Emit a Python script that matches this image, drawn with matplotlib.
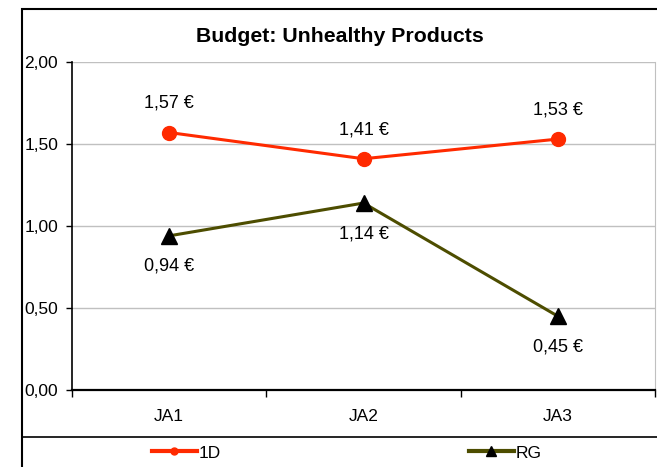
import matplotlib
matplotlib.use("Agg")
import matplotlib.pyplot as plt
from matplotlib.lines import Line2D
from matplotlib.patches import Rectangle
from matplotlib.ticker import FuncFormatter, FixedLocator

plt.rcParams['font.family'] = ['Liberation Sans', 'DejaVu Sans']

# data
categories = ['JA1', 'JA2', 'JA3']
series_1d = [1.57, 1.41, 1.53]
series_rg = [0.94, 1.14, 0.45]
title = 'Budget: Unhealthy Products'

red = '#FF2A00'
olive = '#4D4D00'

fig = plt.figure(figsize=(6.57, 4.67), dpi=100)
ax = fig.add_axes([72 / 657, 1 - 390 / 467, (655 - 72) / 657, (390 - 62) / 467])

x = list(range(len(categories)))
ax.plot(x, series_1d, color=red, lw=2.2, marker='o', ms=10, mec=red, mfc=red, zorder=3)
ax.plot(x, series_rg, color=olive, lw=2.2, marker='^', ms=12, mec='black', mfc='black', zorder=3)

def euro(v):
    return f'{v:.2f}'.replace('.', ',') + ' €'

for xi, v in zip(x, series_1d):
    ax.annotate(euro(v), (xi, v), xytext=(0, 21), textcoords='offset points',
                ha='center', va='center', fontsize=13)
for xi, v in zip(x, series_rg):
    ax.annotate(euro(v), (xi, v), xytext=(0, -22), textcoords='offset points',
                ha='center', va='center', fontsize=13)

ax.set_xlim(-0.5, len(categories) - 0.5)
ax.set_ylim(0, 2.0)
ax.set_yticks([0, 0.5, 1.0, 1.5, 2.0])
ax.yaxis.set_major_formatter(FuncFormatter(lambda v, p: f'{v:.2f}'.replace('.', ',')))
ax.set_xticks(x)
ax.set_xticklabels(categories)
ax.xaxis.set_minor_locator(FixedLocator([-0.5, 0.5, 1.5, 2.5]))
ax.tick_params(axis='x', which='major', length=0, pad=14, labelsize=12.5)
ax.tick_params(axis='x', which='minor', length=5, width=1, direction='out', color='black')
ax.tick_params(axis='y', length=4, width=1, direction='out', pad=6, labelsize=12.5)

ax.grid(axis='y', color='#C0C0C0', lw=1)
ax.set_axisbelow(True)
ax.spines['top'].set_visible(False)
ax.spines['right'].set_color('#C0C0C0')
ax.spines['left'].set_color('black')
ax.spines['bottom'].set_color('black')
ax.spines['left'].set_linewidth(1.2)
ax.spines['bottom'].set_linewidth(1.6)

fig.text(340 / 657, 1 - 36 / 467, title, ha='center', va='center',
         fontsize=15.3, fontweight='bold')

# outer chart border and legend box top
fig.patches.append(Rectangle((22 / 657, -0.2), 1.2, 1.2 - 9 / 467, transform=fig.transFigure,
                             fill=False, ec='black', lw=1.5))
fig.add_artist(Line2D([22 / 657, 1], [1 - 437 / 467] * 2, transform=fig.transFigure,
                      color='black', lw=1.2))

h1 = Line2D([], [], color=red, lw=3, marker='o', ms=5, mfc=red, mec=red)
h2 = Line2D([], [], color=olive, lw=3, marker='^', ms=7, mfc='black', mec='black')
fig.legend([h1], ['1D'], loc='center left', bbox_to_anchor=(136 / 657, 1 - 453 / 467),
           frameon=False, fontsize=12.5, handlelength=2.6, handletextpad=0.1)
fig.legend([h2], ['RG'], loc='center left', bbox_to_anchor=(453 / 657, 1 - 453 / 467),
           frameon=False, fontsize=12.5, handlelength=2.6, handletextpad=0.1)

fig.savefig('out.png', dpi=100)
